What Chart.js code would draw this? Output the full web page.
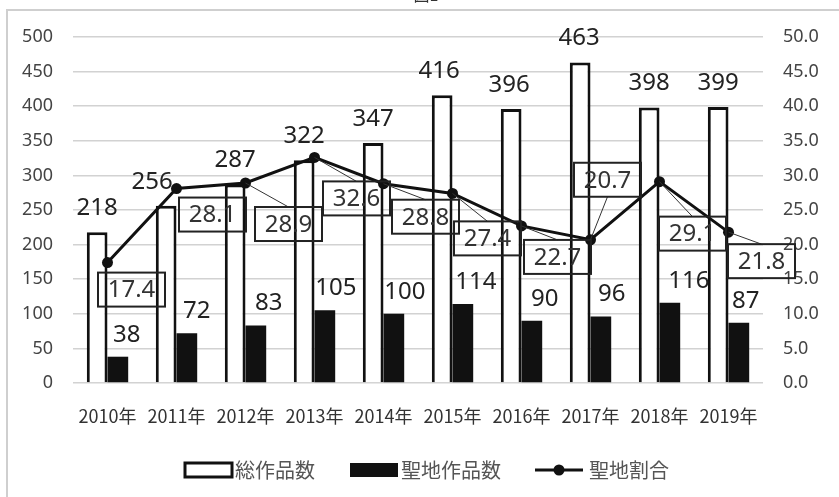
<!DOCTYPE html>
<html>
<head>
<meta charset="utf-8">
<script src="https://cdn.jsdelivr.net/npm/chart.js@4.4.1/dist/chart.umd.min.js"></script>
<style>
	body { margin: 0; background: #fff; }
	#wrap { position: relative; width: 839px; height: 497px; }
</style>
</head>
<body>
<div id="wrap"><canvas id="chart"></canvas></div>
<script>
'use strict';

const years = ['2010年', '2011年', '2012年', '2013年', '2014年', '2015年', '2016年', '2017年', '2018年', '2019年'];
const totalWorks = [218, 256, 287, 322, 347, 416, 396, 463, 398, 399];
const seichiWorks = [38, 72, 83, 105, 100, 114, 90, 96, 116, 87];
const seichiRatio = [17.4, 28.1, 28.9, 32.6, 28.8, 27.4, 22.7, 20.7, 29.1, 21.8];

// label placement (pixels relative to the mark)
const totalLabelDx = [0, -14, 0, 0, 0, -3, -2, -1, 0, 0];
const seichiLabelDx = [9, 10, 13, 11, 11, 13, 13, 11, 19, 7];
const ratioBoxOffsets = [[24, 27], [36, 26], [43, 41], [42, 41], [42, 33], [35, 45], [36, 31], [17, -60], [33, 52], [33, 29]];
const ratioLeader = [false, false, true, true, true, true, true, true, true, true];

const FONT = '"Noto Sans", "Noto Sans CJK JP", sans-serif';
const JP_FONT = '"Noto Sans CJK JP", "Noto Sans", sans-serif';

const labelPlugin = {
	id: 'labels',
	beforeDraw(chart) {
		const ctx = chart.ctx;
		ctx.save();
		ctx.strokeStyle = '#cfcfcf';
		ctx.lineWidth = 2;
		ctx.strokeRect(7, 10, 900, 600);
		ctx.fillStyle = '#333';
		ctx.font = '16px ' + JP_FONT;
		ctx.textAlign = 'center';
		ctx.textBaseline = 'bottom';
		ctx.fillText('図1', 426, 3);
		ctx.restore();
	},
	afterDraw(chart) {
		const ctx = chart.ctx;
		const totalMeta = chart.getDatasetMeta(0);
		const seichiMeta = chart.getDatasetMeta(1);
		const ratioMeta = chart.getDatasetMeta(2);

		ctx.save();
		ctx.fillStyle = '#222';
		ctx.font = '24px ' + FONT;
		ctx.textAlign = 'center';
		ctx.textBaseline = 'middle';

		totalMeta.data.forEach((bar, i) => {
			ctx.fillText(String(totalWorks[i]), bar.x + totalLabelDx[i], bar.y - 24);
		});
		seichiMeta.data.forEach((bar, i) => {
			ctx.fillText(String(seichiWorks[i]), bar.x + seichiLabelDx[i], bar.y - 22);
		});

		const bw = 67, bh = 34;
		ratioMeta.data.forEach((pt, i) => {
			const cx = pt.x + ratioBoxOffsets[i][0];
			const cy = pt.y + ratioBoxOffsets[i][1];
			const left = cx - bw / 2, top = cy - bh / 2;

			if (ratioLeader[i]) {
				let tx = cx, ty;
				if (pt.y < top) {
					ty = top;
				} else if (pt.y > top + bh) {
					ty = top + bh;
				} else {
					ty = cy;
					tx = pt.x < left ? left : left + bw;
				}
				ctx.strokeStyle = '#333';
				ctx.lineWidth = 1;
				ctx.beginPath();
				ctx.moveTo(pt.x, pt.y);
				ctx.lineTo(tx, ty);
				ctx.stroke();
			}

			ctx.strokeStyle = '#222';
			ctx.lineWidth = 2;
			ctx.strokeRect(left, top, bw, bh);
			ctx.fillStyle = '#333';
			ctx.fillText(seichiRatio[i].toFixed(1), cx, cy + 1);
		});

		// legend
		const ly = 470;
		const ds = chart.data.datasets;
		ctx.font = '20px ' + JP_FONT;
		ctx.textAlign = 'left';
		ctx.fillStyle = '#fff';
		ctx.fillRect(185, ly - 7, 47, 14);
		ctx.strokeStyle = '#111';
		ctx.lineWidth = 3;
		ctx.strokeRect(185, ly - 7, 47, 14);
		ctx.fillStyle = '#555';
		ctx.fillText(ds[0].label, 235, ly);

		ctx.fillStyle = '#111';
		ctx.fillRect(350, ly - 7, 48, 14);
		ctx.fillStyle = '#555';
		ctx.fillText(ds[1].label, 401, ly);

		ctx.strokeStyle = '#111';
		ctx.lineWidth = 3;
		ctx.beginPath();
		ctx.moveTo(535, ly);
		ctx.lineTo(583, ly);
		ctx.stroke();
		ctx.fillStyle = '#111';
		ctx.beginPath();
		ctx.arc(559, ly, 5.5, 0, Math.PI * 2);
		ctx.fill();
		ctx.fillStyle = '#555';
		ctx.fillText(ds[2].label, 589, ly);

		ctx.restore();
	}
};

window.onload = function() {
	const canvas = document.getElementById('chart');

	new Chart(canvas, {
		type: 'bar',
		data: {
			labels: years,
			datasets: [
				{
					label: '総作品数',
					data: totalWorks,
					backgroundColor: '#fff',
					borderColor: '#111',
					borderWidth: 3,
					yAxisID: 'y',
					order: 2,
					categoryPercentage: 0.6,
					barPercentage: 1.0
				},
				{
					label: '聖地作品数',
					data: seichiWorks,
					backgroundColor: '#111',
					borderColor: '#111',
					borderWidth: 0,
					yAxisID: 'y',
					order: 3,
					categoryPercentage: 0.6,
					barPercentage: 1.0
				},
				{
					type: 'line',
					label: '聖地割合',
					data: seichiRatio,
					borderColor: '#111',
					backgroundColor: '#111',
					borderWidth: 3,
					pointRadius: 5.5,
					pointBackgroundColor: '#111',
					pointBorderWidth: 0,
					tension: 0,
					yAxisID: 'y1',
					order: 0
				}
			]
		},
		options: {
			responsive: true,
			maintainAspectRatio: false,
			animation: false,
			layout: {
				padding: { top: 37, left: 0, right: 0, bottom: 0 }
			},
			plugins: {
				legend: { display: false },
				tooltip: { enabled: false }
			},
			scales: {
				x: {
					grid: { display: false, drawTicks: false },
					border: { display: false },
					ticks: {
						color: '#333',
						font: { family: JP_FONT, size: 18 },
						padding: 22,
						maxRotation: 0
					},
					afterFit: (scale) => { scale.height = 114; }
				},
				y: {
					position: 'left',
					min: 0,
					max: 500,
					grid: { color: '#d2d2d2', lineWidth: 1.5, drawTicks: false },
					border: { display: false },
					ticks: {
						stepSize: 50,
						color: '#444',
						font: { family: FONT, size: 18 },
						padding: 20
					},
					afterFit: (scale) => { scale.width = 73; }
				},
				y1: {
					position: 'right',
					min: 0,
					max: 50,
					grid: { display: false, drawTicks: false },
					border: { display: false },
					ticks: {
						stepSize: 5,
						color: '#444',
						font: { family: FONT, size: 18 },
						padding: 20,
						callback: (v) => v.toFixed(1)
					},
					afterFit: (scale) => { scale.width = 76; }
				}
			}
		},
		plugins: [labelPlugin]
	});
};
</script>
</body>
</html>
